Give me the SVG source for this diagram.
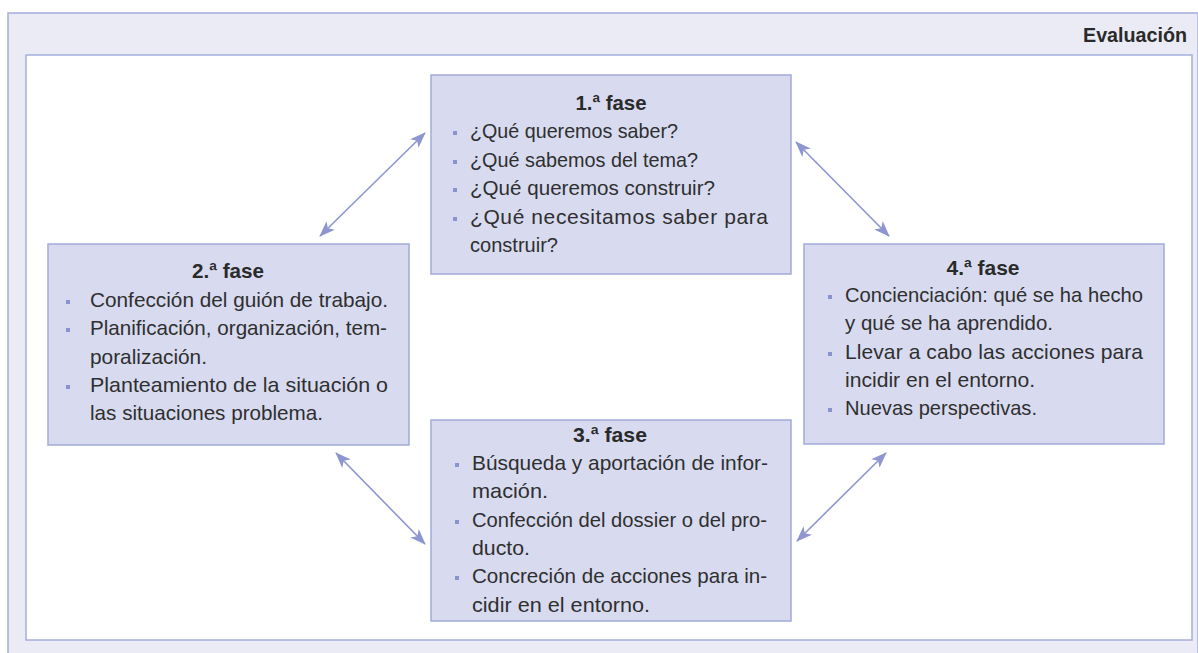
<svg xmlns="http://www.w3.org/2000/svg" width="1198" height="653" viewBox="0 0 1198 653">
<style>
.frame{fill:#ebebf5;stroke:#a6aedb;stroke-width:1.5}
.inner{fill:#ffffff;stroke:#a6aedb;stroke-width:1.5}
.box{fill:#d8dbef;stroke:#a2aad8;stroke-width:1.5}
.t{font-family:"Liberation Sans",Arial,sans-serif;font-size:21px;fill:#2f2f2f}
.h{font-family:"Liberation Sans",Arial,sans-serif;font-size:20.5px;font-weight:bold;fill:#2a2a2a;text-anchor:middle}
.b{fill:#8a93cf}
.conn line{stroke:#8d96d0;stroke-width:1.6;marker-start:url(#ah);marker-end:url(#ah)}
</style>
<defs>
<marker id="ah" viewBox="0 0 16 12" refX="15" refY="6" markerWidth="16" markerHeight="12" markerUnits="userSpaceOnUse" orient="auto-start-reverse">
<path d="M0,0 L16,6 L0,12 L4,6 Z" fill="#8d96d0"/>
</marker>
</defs>
<rect class="frame" x="8" y="13" width="1190" height="652"/>
<rect class="inner" x="26" y="55" width="1166" height="585"/>
<text x="1187" y="42" font-family="Liberation Sans,Arial,sans-serif" font-size="20px" font-weight="bold" fill="#2a2a2a" text-anchor="end" textLength="104" lengthAdjust="spacingAndGlyphs">Evaluación</text>

<g class="conn">
<line x1="320" y1="236" x2="425" y2="133"/>
<line x1="796" y1="142" x2="889" y2="236"/>
<line x1="336" y1="453" x2="425" y2="544"/>
<line x1="797" y1="541" x2="886" y2="453"/>
</g>

<g id="fase1">
<rect class="box" x="431" y="75" width="360" height="199"/>
<text class="h" x="611" y="110" textLength="71" lengthAdjust="spacingAndGlyphs">1.ª fase</text>
<rect class="b" x="453" y="131" width="4" height="4"/>
<rect class="b" x="453" y="160" width="4" height="4"/>
<rect class="b" x="453" y="188" width="4" height="4"/>
<rect class="b" x="453" y="217" width="4" height="4"/>
<text class="t" x="470" y="138" textLength="208" lengthAdjust="spacingAndGlyphs">¿Qué queremos saber?</text>
<text class="t" x="470" y="167" textLength="228" lengthAdjust="spacingAndGlyphs">¿Qué sabemos del tema?</text>
<text class="t" x="470" y="195" textLength="245" lengthAdjust="spacingAndGlyphs">¿Qué queremos construir?</text>
<text class="t" x="470" y="224" textLength="298" lengthAdjust="spacing">¿Qué necesitamos saber para</text>
<text class="t" x="470" y="252" textLength="88" lengthAdjust="spacingAndGlyphs">construir?</text>
</g>

<g id="fase2">
<rect class="box" x="48" y="244" width="361" height="201"/>
<text class="h" x="228" y="278" textLength="72" lengthAdjust="spacingAndGlyphs">2.ª fase</text>
<rect class="b" x="66" y="300" width="4" height="4"/>
<rect class="b" x="66" y="328" width="4" height="4"/>
<rect class="b" x="66" y="385" width="4" height="4"/>
<text class="t" x="90" y="307" textLength="298" lengthAdjust="spacingAndGlyphs">Confección del guión de trabajo.</text>
<text class="t" x="90" y="335" textLength="297" lengthAdjust="spacingAndGlyphs">Planificación, organización, tem-</text>
<text class="t" x="90" y="364" textLength="117" lengthAdjust="spacingAndGlyphs">poralización.</text>
<text class="t" x="90" y="392" textLength="298" lengthAdjust="spacingAndGlyphs">Planteamiento de la situación o</text>
<text class="t" x="90" y="420" textLength="233" lengthAdjust="spacingAndGlyphs">las situaciones problema.</text>
</g>

<g id="fase3">
<rect class="box" x="431" y="420" width="360" height="201"/>
<text class="h" x="610" y="442" textLength="74" lengthAdjust="spacingAndGlyphs">3.ª fase</text>
<rect class="b" x="455" y="463" width="4" height="4"/>
<rect class="b" x="455" y="520" width="4" height="4"/>
<rect class="b" x="455" y="576" width="4" height="4"/>
<text class="t" x="472" y="470" textLength="296" lengthAdjust="spacingAndGlyphs">Búsqueda y aportación de infor-</text>
<text class="t" x="472" y="498" textLength="76" lengthAdjust="spacingAndGlyphs">mación.</text>
<text class="t" x="472" y="527" textLength="295" lengthAdjust="spacingAndGlyphs">Confección del dossier o del pro-</text>
<text class="t" x="472" y="555" textLength="58" lengthAdjust="spacingAndGlyphs">ducto.</text>
<text class="t" x="472" y="583" textLength="295" lengthAdjust="spacingAndGlyphs">Concreción de acciones para in-</text>
<text class="t" x="472" y="612" textLength="178" lengthAdjust="spacingAndGlyphs">cidir en el entorno.</text>
</g>

<g id="fase4">
<rect class="box" x="804" y="244" width="360" height="200"/>
<text class="h" x="983" y="275" textLength="73" lengthAdjust="spacingAndGlyphs">4.ª fase</text>
<rect class="b" x="828" y="295" width="4" height="4"/>
<rect class="b" x="828" y="352" width="4" height="4"/>
<rect class="b" x="828" y="408" width="4" height="4"/>
<text class="t" x="845" y="302" textLength="298" lengthAdjust="spacingAndGlyphs">Concienciación: qué se ha hecho</text>
<text class="t" x="845" y="330" textLength="208" lengthAdjust="spacingAndGlyphs">y qué se ha aprendido.</text>
<text class="t" x="845" y="359" textLength="298" lengthAdjust="spacing">Llevar a cabo las acciones para</text>
<text class="t" x="845" y="387" textLength="190" lengthAdjust="spacingAndGlyphs">incidir en el entorno.</text>
<text class="t" x="845" y="415" textLength="192" lengthAdjust="spacingAndGlyphs">Nuevas perspectivas.</text>
</g>
</svg>
